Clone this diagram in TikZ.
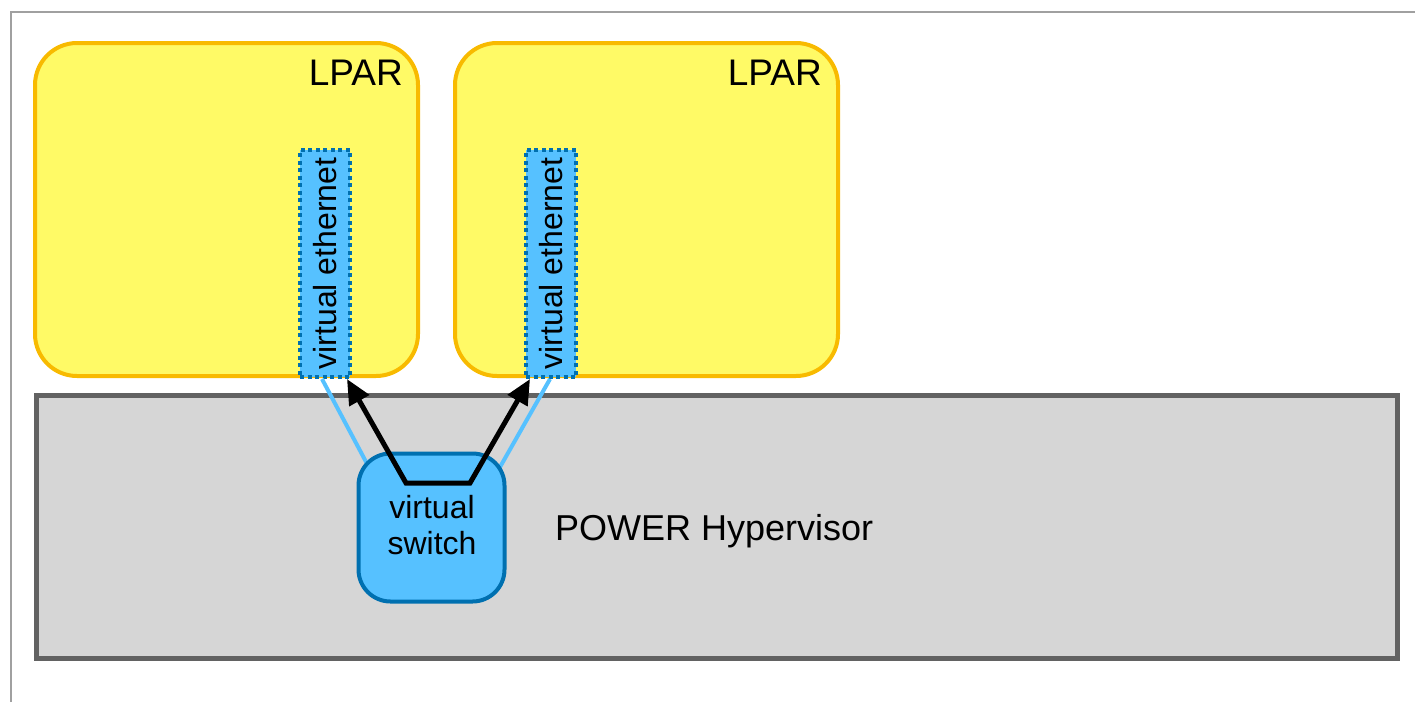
\documentclass[tikz,border=0pt]{standalone}
\usepackage{fontspec}
\setmainfont{Liberation Sans}
\usetikzlibrary{arrows.meta,calc}
\definecolor{lparfill}{HTML}{FFFA66}
\definecolor{lparline}{HTML}{F8BA00}
\definecolor{vblue}{HTML}{56C1FF}
\definecolor{vdark}{HTML}{0070B0}
\definecolor{hvfill}{HTML}{D6D6D6}
\definecolor{hvline}{HTML}{626262}
\definecolor{framegray}{HTML}{A0A0A0}
\pgfdeclarelayer{bg}
\pgfdeclarelayer{mid}
\pgfsetlayers{bg,mid,main}
\begin{document}
\begin{tikzpicture}[x=1pt,y=-1pt,
  lpar/.style={draw=lparline, fill=lparfill, line width=4pt, rounded corners=42pt,
    minimum width=383pt, minimum height=333pt, inner sep=0pt},
  vebox/.style={draw=vdark, fill=vblue, line width=4pt, dash pattern=on 4pt off 3.5pt,
    minimum width=50pt, minimum height=227pt, inner sep=0pt},
  hvbox/.style={draw=hvline, fill=hvfill, line width=5pt,
    minimum width=1361pt, minimum height=263pt, inner sep=0pt},
  swbox/.style={draw=vdark, fill=vblue, line width=4pt, rounded corners=32pt,
    minimum width=146pt, minimum height=148pt, inner sep=0pt},
  txt/.style={font=\fontsize{32}{36}\selectfont, inner sep=0pt, text=black},
  lbl/.style={font=\fontsize{37}{42}\selectfont, inner sep=0pt, text=black},
  feed/.style={draw=vblue, line width=4pt},
  flow/.style={draw=black, line width=5pt, line join=miter,
    {Triangle[length=25pt,width=22pt]}-{Triangle[length=25pt,width=22pt]}}
]
\useasboundingbox (0,0) rectangle (1415,702);
\draw[framegray, line width=2pt] (11,702) -- (11,12) -- (1415,12);

\begin{pgfonlayer}{bg}
\node[lpar] (lp1) at (226.5,209.5) {};
\node[lpar] (lp2) at (646.5,209.5) {};
\node[hvbox] (hv) at (716.5,526.5) {};
\node[vebox] (ve1) at (325,263.5) {};
\node[vebox] (ve2) at (551,263.5) {};
\end{pgfonlayer}

\node[lbl, anchor=base east] (lt1) at (403,85) {LPAR};
\node[lbl, anchor=base east] (lt2) at (822,85) {LPAR};
\node[txt, rotate=90] (vt1) at (ve1.center) {virtual ethernet};
\node[txt, rotate=90] (vt2) at (ve2.center) {virtual ethernet};
\node[txt, font=\fontsize{36}{40}\selectfont, anchor=base west] (hvt) at (555,540) {POWER Hypervisor};

\node[swbox] (sw) at (431.5,527.5) {};
\node[txt, align=center] (swt) at (432,525) {virtual\\switch};

\coordinate (f1) at ($(sw.north west)+(16.5,23.5)$);
\coordinate (f2) at ($(sw.north east)+(-11,23.5)$);
\coordinate (a1) at ($(sw.north west)+(49.5,31.5)$);
\coordinate (a2) at ($(sw.north east)+(-36.5,31.5)$);

\begin{pgfonlayer}{mid}
\draw[feed] ($(ve1.south)+(-3,0)$) -- (f1);
\draw[feed] ($(ve2.south)+(-1,0)$) -- (f2);
\end{pgfonlayer}

\draw[flow] ($(ve1.south east)+(-5,0)$) -- (a1) -- (a2) -- ($(ve2.south west)+(6,0)$);
\end{tikzpicture}
\end{document}
